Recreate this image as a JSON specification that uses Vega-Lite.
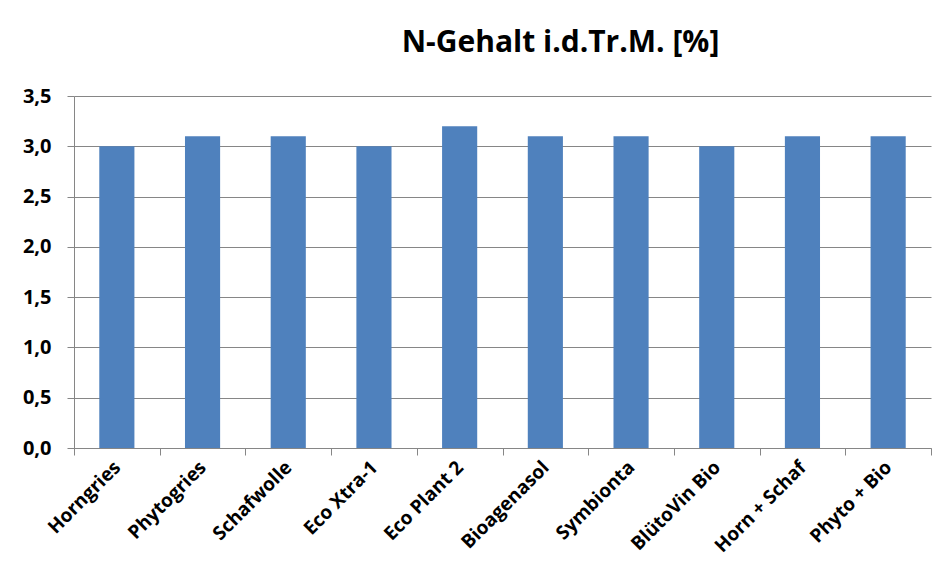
{
  "$schema": "https://vega.github.io/schema/vega-lite/v6.json",
  "autosize": "none",
  "width": 857,
  "height": 352,
  "padding": {"left": 74, "top": 96, "right": 10, "bottom": 137},
  "background": "white",
  "title": {
    "text": "N-Gehalt i.d.Tr.M. [%]",
    "font": "Open Sans",
    "fontSize": 30,
    "fontWeight": "bold",
    "color": "black",
    "anchor": "middle",
    "dx": 58,
    "offset": 28
  },
  "data": {
    "values": [
      {"produkt": "Horngries", "n": 3.0},
      {"produkt": "Phytogries", "n": 3.1},
      {"produkt": "Schafwolle", "n": 3.1},
      {"produkt": "Eco Xtra-1", "n": 3.0},
      {"produkt": "Eco Plant 2", "n": 3.2},
      {"produkt": "Bioagenasol", "n": 3.1},
      {"produkt": "Symbionta", "n": 3.1},
      {"produkt": "BlütoVin Bio", "n": 3.0},
      {"produkt": "Horn + Schaf", "n": 3.1},
      {"produkt": "Phyto + Bio", "n": 3.1}
    ]
  },
  "mark": {"type": "bar", "color": "#4F81BD", "width": {"band": 0.41}},
  "encoding": {
    "x": {
      "field": "produkt",
      "type": "nominal",
      "sort": null,
      "scale": {"paddingInner": 0, "paddingOuter": 0},
      "axis": {
        "title": null,
        "labelAngle": -45,
        "labelAlign": "right",
        "labelBaseline": "middle",
        "labelFont": "Open Sans",
        "labelFontSize": 19,
        "labelFontWeight": "bold",
        "labelColor": "black",
        "labelPadding": 9,
        "tickBand": "extent",
        "tickSize": 7,
        "tickColor": "#868686",
        "domainColor": "#868686",
        "grid": false
      }
    },
    "y": {
      "field": "n",
      "type": "quantitative",
      "scale": {"domain": [0, 3.5], "nice": false},
      "axis": {
        "title": null,
        "values": [0, 0.5, 1, 1.5, 2, 2.5, 3, 3.5],
        "labelExpr": "replace(format(datum.value, '.1f'), '.', ',')",
        "labelFont": "Open Sans",
        "labelFontSize": 20,
        "labelFontWeight": "bold",
        "labelColor": "black",
        "labelPadding": 16,
        "tickSize": 7,
        "tickColor": "#868686",
        "domainColor": "#868686",
        "gridColor": "#868686",
        "gridWidth": 1
      }
    }
  },
  "config": {"view": {"stroke": null}}
}
